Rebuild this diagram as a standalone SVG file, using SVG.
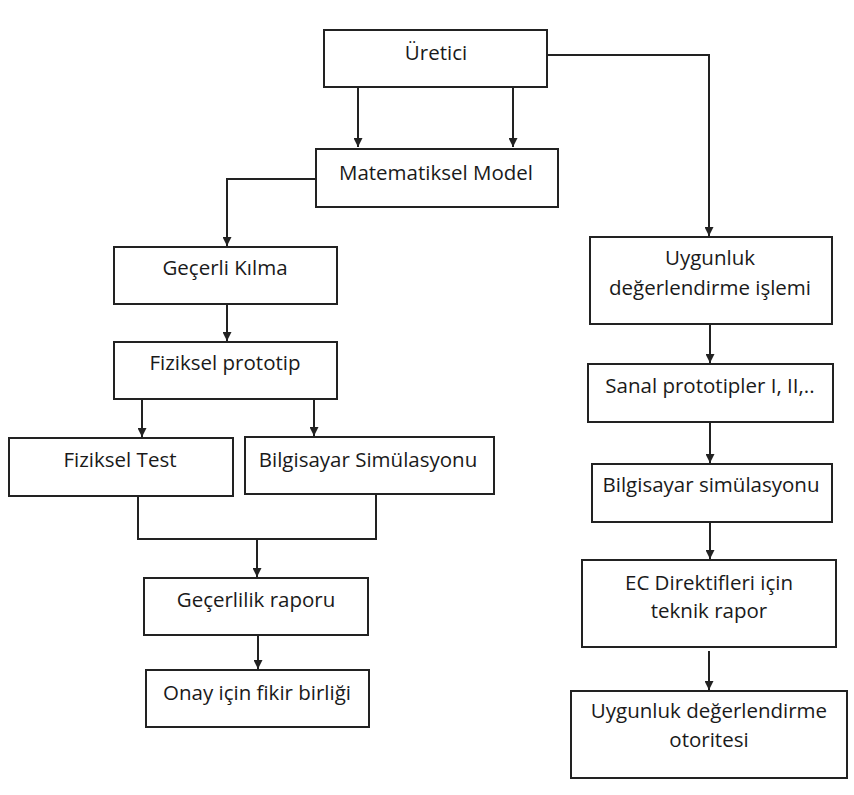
<svg xmlns="http://www.w3.org/2000/svg" width="854" height="795" viewBox="0 0 854 795">
<style>
.box{fill:#fff;stroke:#222;stroke-width:2}
.t{font-family:"Open Sans","Liberation Sans",sans-serif;font-size:20.5px;fill:#1a1a1a;text-anchor:middle}
.c{fill:none;stroke:#222;stroke-width:2}
</style>
<defs>
<marker id="ah" viewBox="0 0 10 10" refX="10" refY="5" markerWidth="9" markerHeight="9" markerUnits="userSpaceOnUse" orient="auto">
<path d="M0,0 L10,5 L0,10 Z" fill="#222"/>
</marker>
</defs>
<rect width="854" height="795" fill="#fff"/>
<g id="connectors">
<path class="c" d="M358,87 V147" marker-end="url(#ah)"/>
<path class="c" d="M513,87 V147" marker-end="url(#ah)"/>
<path class="c" d="M547,55 H709 V236" marker-end="url(#ah)"/>
<path class="c" d="M316,179 H227 V246" marker-end="url(#ah)"/>
<path class="c" d="M227,304 V341" marker-end="url(#ah)"/>
<path class="c" d="M142,399 V437" marker-end="url(#ah)"/>
<path class="c" d="M314,399 V436" marker-end="url(#ah)"/>
<path class="c" d="M138,496 V539 H376 V494"/>
<path class="c" d="M257,539 V577" marker-end="url(#ah)"/>
<path class="c" d="M258,635 V669" marker-end="url(#ah)"/>
<path class="c" d="M710,324 V363" marker-end="url(#ah)"/>
<path class="c" d="M710,422 V463" marker-end="url(#ah)"/>
<path class="c" d="M710,522 V559" marker-end="url(#ah)"/>
<path class="c" d="M709,651 V690" marker-end="url(#ah)"/>
</g>
<g id="uretici"><rect class="box" x="324" y="30" width="223" height="57"/><text class="t" x="436" y="60">Üretici</text></g>
<g id="matematiksel"><rect class="box" x="316" y="149" width="242" height="58"/><text class="t" x="436" y="180">Matematiksel Model</text></g>
<g id="gecerli"><rect class="box" x="114" y="247" width="223" height="57"/><text class="t" x="225" y="275">Geçerli Kılma</text></g>
<g id="fiziksel-prototip"><rect class="box" x="114" y="342" width="223" height="57"/><text class="t" x="225" y="370">Fiziksel prototip</text></g>
<g id="fiziksel-test"><rect class="box" x="9" y="438" width="224" height="58"/><text class="t" x="120" y="467">Fiziksel Test</text></g>
<g id="bilgisayar-sim"><rect class="box" x="245" y="437" width="249" height="57"/><text class="t" x="368" y="467">Bilgisayar Simülasyonu</text></g>
<g id="gecerlilik"><rect class="box" x="144" y="578" width="224" height="57"/><text class="t" x="256" y="607">Geçerlilik raporu</text></g>
<g id="onay"><rect class="box" x="146" y="670" width="223" height="57"/><text class="t" x="257" y="700">Onay için fikir birliği</text></g>
<g id="uygunluk-islem"><rect class="box" x="590" y="237" width="242" height="87"/><text class="t" x="710" y="265">Uygunluk</text><text class="t" x="710" y="295">değerlendirme işlemi</text></g>
<g id="sanal"><rect class="box" x="588" y="364" width="245" height="58"/><text class="t" x="710" y="393">Sanal prototipler I, II,..</text></g>
<g id="bilgisayar-simulasyonu"><rect class="box" x="592" y="464" width="240" height="58"/><text class="t" x="711" y="492">Bilgisayar simülasyonu</text></g>
<g id="ec"><rect class="box" x="582" y="560" width="254" height="87"/><text class="t" x="709" y="590">EC Direktifleri için</text><text class="t" x="709" y="618">teknik rapor</text></g>
<g id="otorite"><rect class="box" x="571" y="691" width="276" height="87"/><text class="t" x="709" y="718">Uygunluk değerlendirme</text><text class="t" x="709" y="747">otoritesi</text></g>
</svg>
